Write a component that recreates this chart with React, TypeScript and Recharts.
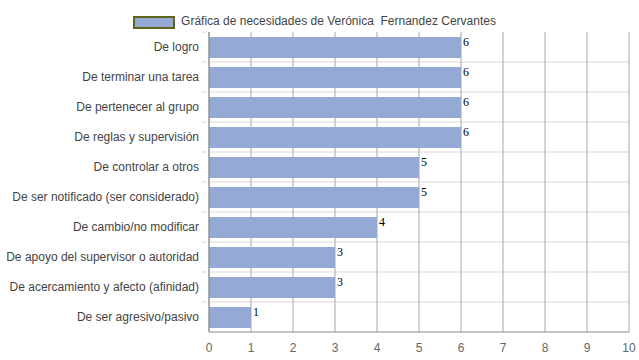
import React from "react";
import {
  BarChart,
  Bar,
  XAxis,
  YAxis,
  CartesianGrid,
  Legend,
  LabelList,
} from "recharts";

const categories = [
  "De logro",
  "De terminar una tarea",
  "De pertenecer al grupo",
  "De reglas y supervisión",
  "De controlar a otros",
  "De ser notificado (ser considerado)",
  "De cambio/no modificar",
  "De apoyo del supervisor o autoridad",
  "De acercamiento y afecto (afinidad)",
  "De ser agresivo/pasivo",
];
const values = [6, 6, 6, 6, 5, 5, 4, 3, 3, 1];
const xTicks = [0, 1, 2, 3, 4, 5, 6, 7, 8, 9, 10];
const seriesName = "Gráfica de necesidades de Verónica  Fernandez Cervantes";

const data = categories.map((name, i) => ({ name, value: values[i] }));

const BAND = 30;
const SANS = "'Liberation Sans', Arial, sans-serif";
const SERIF = "'Liberation Serif', 'Times New Roman', 'DejaVu Serif', serif";

function CategoryTick(props: any) {
  const { x, y, payload } = props;
  return (
    <g>
      <line x1={x + 1} x2={x + 6} y1={y - BAND / 2} y2={y - BAND / 2} stroke="#d9d9d9" />
      <text x={x - 2} y={y + 4} textAnchor="end" fill="#444" fontSize={12} style={{ fontFamily: SANS }}>
        {payload.value}
      </text>
    </g>
  );
}

function ValueLabel(props: any) {
  const { x, y, width, value } = props;
  return (
    <text
      x={Number(x) + Number(width) + 2}
      y={Number(y) + 9}
      fill="#000"
      fontSize={12}
      style={{ fontFamily: SERIF, fontWeight: "normal" }}
    >
      {value}
    </text>
  );
}

function LegendBox() {
  return (
    <div
      style={{
        height: 24,
        display: "flex",
        alignItems: "flex-start",
        justifyContent: "center",
        fontFamily: SANS,
        fontSize: 12,
        color: "#444",
      }}
    >
      <span
        style={{
          display: "inline-block",
          width: 38,
          height: 9,
          marginTop: 8,
          background: "#94a9d4",
          border: "2px solid #60631c",
          marginRight: 6,
        }}
      />
      <span style={{ marginTop: 6, whiteSpace: "pre" }}>{seriesName}</span>
    </div>
  );
}

export default function App() {
  return (
    <div style={{ position: "absolute", left: 0, top: 0, background: "#fff" }}>
      <BarChart
        width={639}
        height={360}
        data={data}
        layout="vertical"
        margin={{ top: 8, right: 10, bottom: 0, left: 0 }}
        barCategoryGap={0}
      >
        <CartesianGrid
          stroke="#d9d9d9"
          vertical={false}
          horizontalCoordinatesGenerator={({ offset }: any) =>
            categories.slice(1).map((_, i) => offset.top + ((i + 1) * offset.height) / categories.length)
          }
        />
        <CartesianGrid stroke="#a6a6a6" horizontal={false} />
        <XAxis
          type="number"
          domain={[0, 10]}
          ticks={xTicks}
          interval={0}
          height={28}
          stroke="#888"
          tickLine={false}
          tick={{ fill: "#666", fontSize: 12, fontFamily: SANS }}
          tickMargin={5}
        />
        <YAxis
          type="category"
          dataKey="name"
          width={209}
          stroke="#888"
          tickLine={false}
          tick={<CategoryTick />}
          interval={0}
        />
        <Legend verticalAlign="top" content={<LegendBox />} />
        <Bar dataKey="value" name={seriesName} fill="#94a9d4" barSize={21} isAnimationActive={false}>
          <LabelList dataKey="value" content={<ValueLabel />} />
        </Bar>
      </BarChart>
    </div>
  );
}
